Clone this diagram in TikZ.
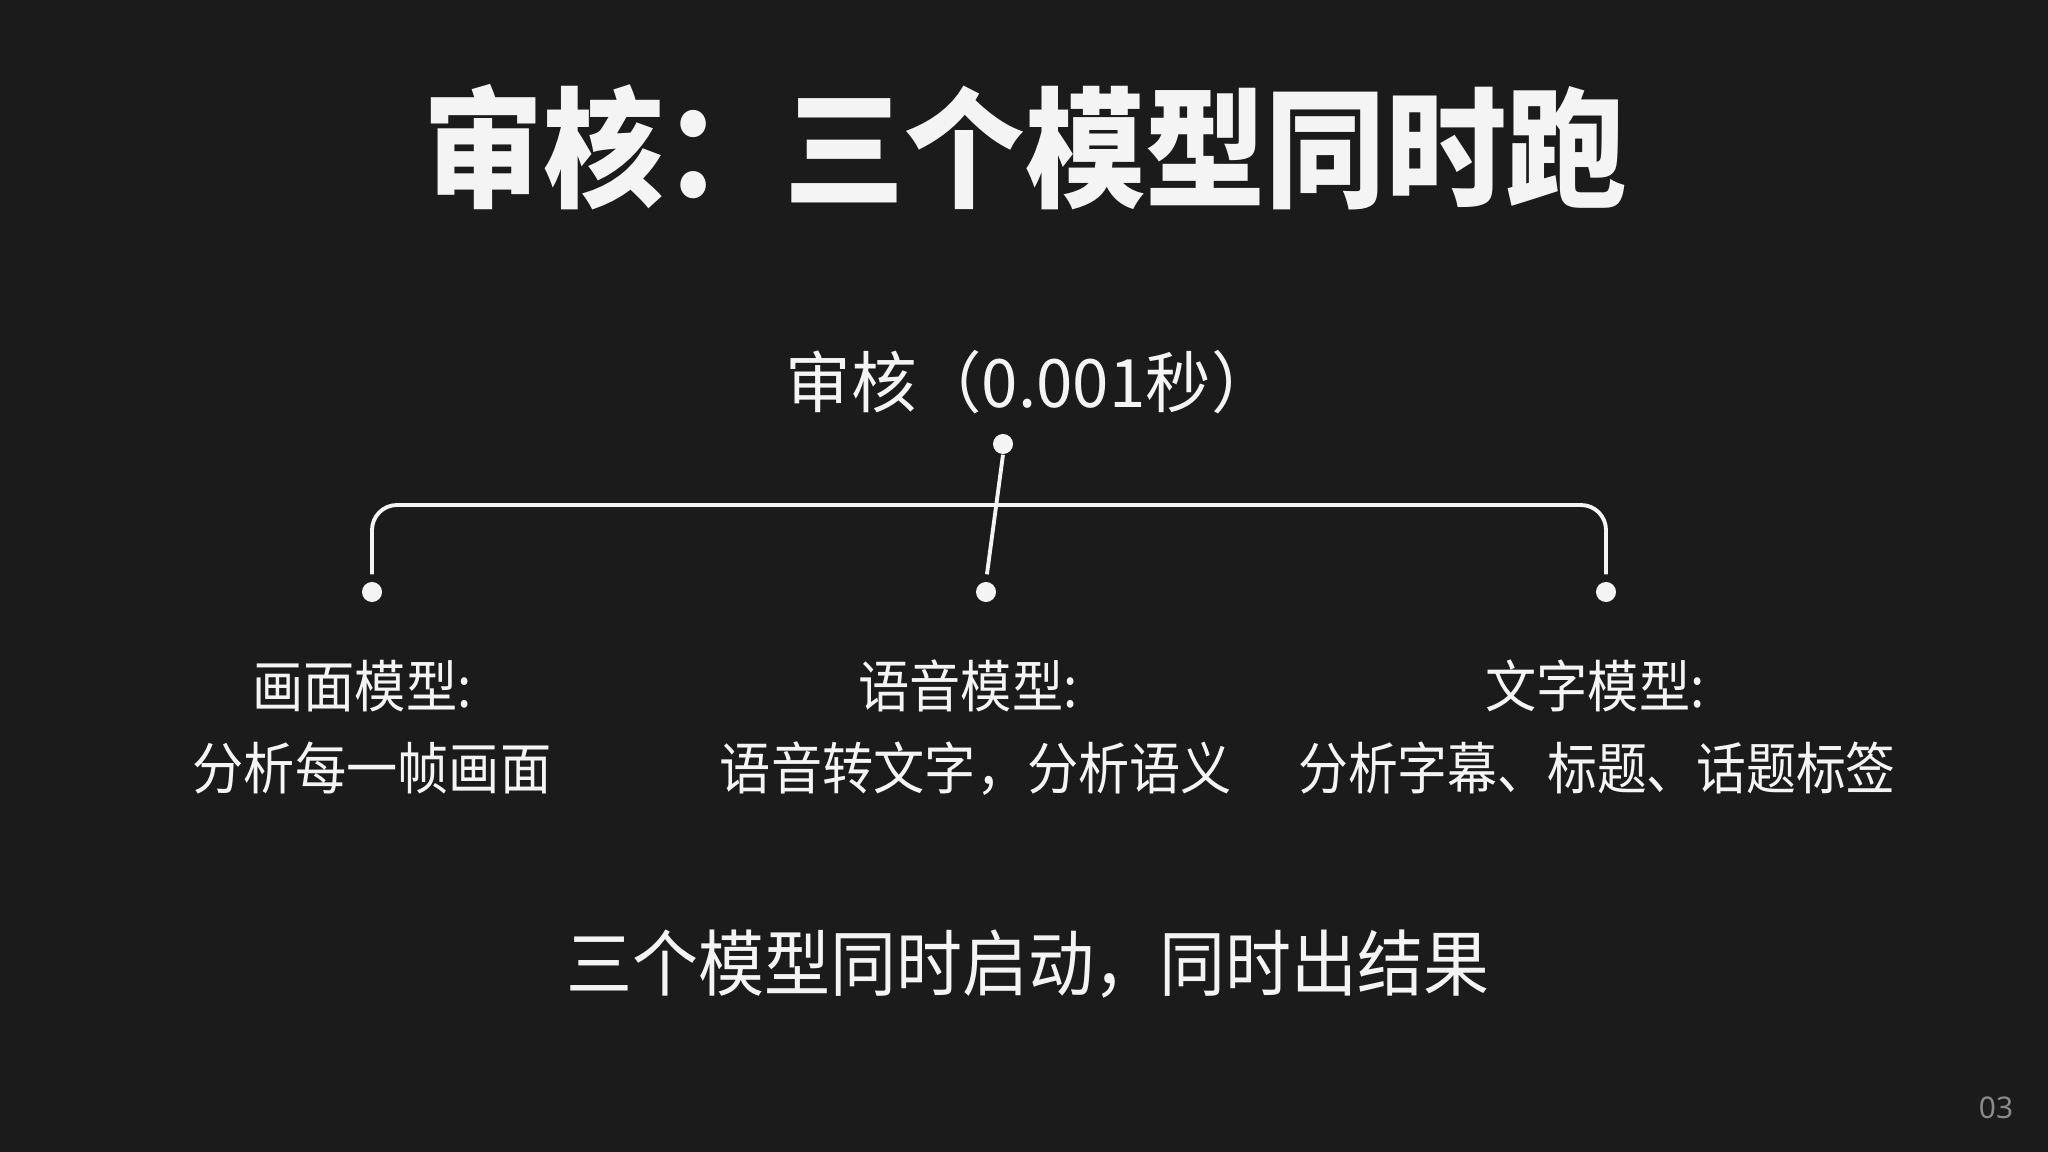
\documentclass[tikz,border=0pt]{standalone}
\usepackage{fontspec}
\newfontfamily\cjktitle{Noto Sans CJK SC}[FakeStretch=0.925]
\newfontfamily\cjksub{Noto Sans CJK SC}[FakeStretch=0.98]
\newfontfamily\cjklab{Noto Sans CJK SC}[FakeStretch=0.91]
\newfontfamily\cjklabn{Noto Sans CJK SC}[FakeStretch=0.885]
\newfontfamily\cjkbot{Noto Sans CJK SC}[FakeStretch=0.915]
\newfontfamily\pagefont{Noto Sans}
\definecolor{bgc}{HTML}{1B1B1B}
\definecolor{txt}{HTML}{F4F4F4}
\definecolor{pgc}{HTML}{8A8A8A}
\tikzset{
  titletext/.style={text=txt, font=\cjktitle\bfseries\fontsize{37}{40}\selectfont, anchor=base, inner sep=0},
  subtext/.style={text=txt, font=\cjksub\fontsize{19}{22}\selectfont, anchor=base, inner sep=0},
  labeltext/.style={text=txt, font=\cjklab\fontsize{16}{19}\selectfont, anchor=base, inner sep=0},
  labelnarrow/.style={text=txt, font=\cjklabn\fontsize{16}{19}\selectfont, anchor=base, inner sep=0},
  bottomtext/.style={text=txt, font=\cjkbot\fontsize{20.5}{24}\selectfont, anchor=base, inner sep=0},
  pagetext/.style={text=pgc, font=\pagefont\fontsize{8.5}{10}\selectfont, inner sep=0},
  dotnode/.style={circle, fill=txt, draw=none, inner sep=0, minimum size=0.2cm},
  conn/.style={draw=txt, line width=1.1pt}
}
\begin{document}
\begin{tikzpicture}[x=0.01cm,y=-0.01cm]
\fill[bgc] (0,0) rectangle (2048,1152);
\useasboundingbox (0,0) rectangle (2048,1152);
% title
\node[titletext] (title) at (1025,198) {审核：三个模型同时跑};
% subtitle
\node[subtext] (sub) at (1031,408) {审核（0.001秒）};
% dots
\node[dotnode] (top) at (1003,444) {};
\node[dotnode] (d1) at (372,592) {};
\node[dotnode] (d2) at (986,592) {};
\node[dotnode] (d3) at (1606,592) {};
\coordinate (bar) at (1003,505);
% connectors
\draw[conn, rounded corners=0.25cm] ([yshift=0.07cm]d1.north) |- (bar) -| ([yshift=0.07cm]d3.north);
\draw[conn, shorten >=0.07cm] (top.south) -- (d2.north);
% labels
\node[labeltext] (l1a) at (362,707) {画面模型:};
\node[labeltext] (l1b) at (372,789) {分析每一帧画面};
\node[labeltext] (l2a) at (968,707) {语音模型:};
\node[labeltext] (l2b) at (976,789) {语音转文字，分析语义};
\node[labeltext] (l3a) at (1595,707) {文字模型:};
\node[labelnarrow] (l3b) at (1597,789) {分析字幕、标题、话题标签};
% bottom
\node[bottomtext] (bottom) at (1028,990) {三个模型同时启动，同时出结果};
% page number
\node[pagetext] (page) at (1996,1108) {03};
\end{tikzpicture}
\end{document}
